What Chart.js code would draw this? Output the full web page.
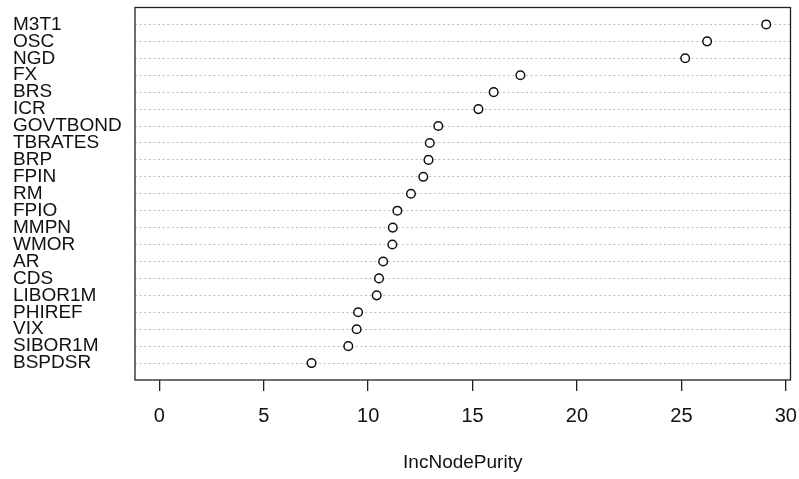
<!DOCTYPE html>
<html>
<head>
<meta charset="utf-8">
<script src="https://cdn.jsdelivr.net/npm/chart.js@4"></script>
<style>
html,body{margin:0;padding:0;background:#fff;}
#wrap{width:799px;height:479px;}
</style>
</head>
<body>
<div id="wrap"><canvas id="c" width="799" height="479"></canvas></div>
<script>
// Variables, top to bottom as displayed
const variables = ["M3T1","OSC","NGD","FX","BRS","ICR","GOVTBOND","TBRATES","BRP","FPIN","RM","FPIO","MMPN","WMOR","AR","CDS","LIBOR1M","PHIREF","VIX","SIBOR1M","BSPDSR"];
const incNodePurity = [29.06,26.23,25.18,17.29,16.01,15.28,13.36,12.95,12.89,12.64,12.05,11.40,11.18,11.16,10.72,10.52,10.41,9.52,9.45,9.05,7.29];
const xTicks = [0,5,10,15,20,25,30];
const xTitle = "IncNodePurity";

const n = variables.length;
// row position: top item gets n, bottom item gets 1
const rowOf = i => n - i;
const points = incNodePurity.map((v,i)=>({x:v,y:rowOf(i)}));
const xmax = Math.max(...incNodePurity);
const xpad = xmax*0.04;

const framePlugin = {
  id:'frame',
  afterDatasetsDraw(chart){
    const a = chart.chartArea, ctx = chart.ctx;
    ctx.save();
    ctx.strokeStyle = '#222';
    ctx.lineWidth = 1.3;
    ctx.strokeRect(a.left, a.top, a.right-a.left, a.bottom-a.top);
    ctx.restore();
  }
};

new Chart(document.getElementById('c'), {
  type:'scatter',
  data:{datasets:[{
    data:points,
    pointStyle:'circle',
    pointRadius:4.3,
    pointHoverRadius:4.3,
    borderColor:'#111',
    borderWidth:1.5,
    backgroundColor:'rgba(255,255,255,1)'
  }]},
  options:{
    responsive:false,
    animation:false,
    events:[],
    layout:{padding:{left:13,top:7.5,right:8.5,bottom:0}},
    plugins:{legend:{display:false},tooltip:{enabled:false}},
    scales:{
      x:{
        type:'linear',
        min:-xpad, max:xmax+xpad,
        afterBuildTicks(s){ s.ticks = xTicks.map(v=>({value:v})); },
        afterFit(s){ s.height = 99; s.paddingLeft = 0; s.paddingRight = 0; },
        grid:{drawOnChartArea:false, drawTicks:true, tickLength:11, color:'#222', lineWidth:1.3},
        border:{display:false},
        ticks:{color:'#111', font:{family:'Liberation Sans, Arial', size:20}, padding:13, maxRotation:0, autoSkip:false},
        title:{display:true, text:xTitle, color:'#111', font:{family:'Liberation Sans, Arial', size:19}, padding:{top:0,bottom:5}}
      },
      y:{
        type:'linear',
        min:0, max:n+1,
        afterBuildTicks(s){ s.ticks = variables.map((v,i)=>({value:rowOf(i)})); },
        afterFit(s){ s.width = 122; s.paddingTop = 0; s.paddingBottom = 0; },
        grid:{drawOnChartArea:true, drawTicks:false, color:'#bdbdbd', lineWidth:1},
        border:{display:false, dash:[2,2.6]},
        ticks:{
          crossAlign:'far',
          color:'#111',
          font:{family:'Liberation Sans, Arial', size:19},
          padding:0,
          autoSkip:false,
          callback(value){ return variables[n - value]; }
        }
      }
    }
  },
  plugins:[framePlugin]
});
</script>
</body>
</html>
